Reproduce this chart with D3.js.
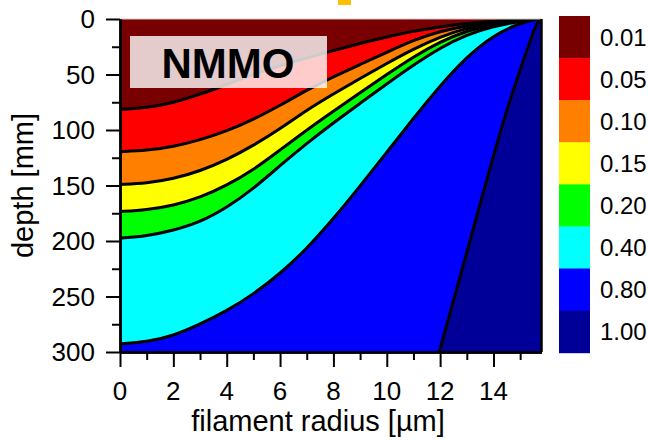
<!DOCTYPE html>
<html lang="en">
<head>
<meta charset="utf-8">
<title>NMMO contour</title>
<script src="https://cdn.jsdelivr.net/npm/d3@7"></script>
<style>
  body { margin: 0; background: #fff; }
  text { font-family: Arial, "Liberation Sans", sans-serif; fill: #000; }
</style>
</head>
<body>
<svg width="648" height="440"></svg>
<script>
// radius grid [µm] for the contour lines
const radius = [0, 1, 2, 3, 4, 5, 6, 7, 8, 9, 10, 11, 12, 13, 14, 15, 15.7];
// depth [mm] of each contour line at those radii
const depth001 = [81.5, 80, 75.5, 68, 59, 50, 42, 35, 28.5, 22, 16, 11, 7, 4, 1.8, 0.5, 0];
const depth005 = [119.5, 118.5, 115, 109, 101, 90.5, 78, 64, 52, 41, 30, 19, 11, 6, 2.8, 0.8, 0];
const depth010 = [149, 148, 144, 137, 127, 114, 99, 82, 67.5, 53.5, 40, 27, 16, 8, 3.8, 1.1, 0];
const depth015 = [173.5, 172, 168, 161, 150, 136, 118, 100, 83, 66.5, 50, 34, 20.5, 10.5, 5, 1.5, 0];
const depth020 = [197.5, 195.5, 190.5, 183, 170, 153, 132, 112, 93.5, 76, 58.5, 41.5, 26, 14, 6.5, 2, 0];
const depth040 = [292.5, 291, 285.5, 275, 263, 248, 229.5, 207, 180, 150.5, 120, 89.5, 60, 34, 14.5, 3.5, 0];
// the 0.80 line runs steeply from the bottom to the top right corner
const edgeRadius = [11.97, 12.54, 13.12, 13.69, 14.06, 14.28, 14.53, 14.8, 15.08, 15.37, 15.6, 15.72];
const edgeDepth = [300, 250, 200, 150, 118, 100, 80, 60, 40, 20, 5, 0];

const levels = ["0.01", "0.05", "0.10", "0.15", "0.20", "0.40", "0.80", "1.00"];
const colors = ["#780000", "#ff0000", "#ff8000", "#ffff00", "#00ff00", "#00ffff", "#0000ff", "#000099"];
const xTicks = [0, 2, 4, 6, 8, 10, 12, 14];
const xMinor = [1, 3, 5, 7, 9, 11, 13, 15];
const yTicks = [0, 50, 100, 150, 200, 250, 300];
const yMinor = [25, 75, 125, 175, 225, 275];

const xMax = 15.8, yMax = 300;
const svg = d3.select("svg");
const x = d3.scaleLinear().domain([0, xMax]).range([120, 541.5]);
const y = d3.scaleLinear().domain([0, yMax]).range([19, 352]);

svg.append("clipPath").attr("id", "plot")
  .append("rect")
  .attr("x", x(0)).attr("y", y(0))
  .attr("width", x(xMax) - x(0)).attr("height", y(yMax) - y(0));

const g = svg.append("g").attr("clip-path", "url(#plot)");

const line = d3.line()
  .x(d => x(d[0]))
  .y(d => y(d[1]))
  .curve(d3.curveBasis);

// everything below-right of a line, closed along the plot frame
function regionBelow(pts) {
  return line(pts) +
    `L${x(xMax)},${y(0)}L${x(xMax)},${y(yMax)}L${x(0)},${y(yMax)}Z`;
}

const contourLines = [depth001, depth005, depth010, depth015, depth020, depth040]
  .map(ds => radius.map((r, i) => [r, ds[i]]));
contourLines.push(edgeRadius.map((r, i) => [r, edgeDepth[i]]));

g.append("rect")
  .attr("x", x(0)).attr("y", y(0))
  .attr("width", x(xMax) - x(0)).attr("height", y(yMax) - y(0))
  .attr("fill", colors[0]);

g.selectAll("path.band")
  .data(contourLines)
  .join("path")
  .attr("class", "band")
  .attr("d", regionBelow)
  .attr("fill", (d, i) => colors[i + 1]);

g.selectAll("path.iso")
  .data(contourLines)
  .join("path")
  .attr("class", "iso")
  .attr("d", line)
  .attr("fill", "none")
  .attr("stroke", "#000")
  .attr("stroke-width", 3);

// label box
svg.append("rect")
  .attr("x", 130).attr("y", 36)
  .attr("width", 197).attr("height", 52)
  .attr("fill", "#fff").attr("fill-opacity", 0.8);
svg.append("text")
  .attr("x", 228).attr("y", 78)
  .attr("text-anchor", "middle")
  .attr("font-size", 42).attr("font-weight", "bold")
  .text("NMMO");

// frame
svg.append("line")
  .attr("x1", x(0)).attr("x2", x(xMax)).attr("y1", y(0)).attr("y2", y(0))
  .attr("stroke", "#d9c4c4").attr("stroke-width", 1);
svg.append("line")
  .attr("x1", x(xMax)).attr("x2", x(xMax)).attr("y1", y(0)).attr("y2", y(yMax))
  .attr("stroke", "#000").attr("stroke-width", 2.5);

function styleAxis(sel) {
  sel.select(".domain").attr("stroke-width", 2.5);
  sel.selectAll(".tick line").attr("stroke-width", 2);
  sel.selectAll("text").remove();
}

svg.append("g").attr("transform", `translate(0,${y(yMax)})`)
  .call(d3.axisBottom(x).tickValues(xMinor).tickSize(8).tickSizeOuter(0))
  .call(styleAxis);
svg.append("g").attr("transform", `translate(0,${y(yMax)})`)
  .call(d3.axisBottom(x).tickValues(xTicks).tickSize(15).tickSizeOuter(0))
  .call(styleAxis);
svg.append("g").attr("transform", `translate(${x(0)},0)`)
  .call(d3.axisLeft(y).tickValues(yMinor).tickSize(8).tickSizeOuter(0))
  .call(styleAxis);
svg.append("g").attr("transform", `translate(${x(0)},0)`)
  .call(d3.axisLeft(y).tickValues(yTicks).tickSize(14).tickSizeOuter(0))
  .call(styleAxis);

svg.selectAll("text.xt")
  .data(xTicks)
  .join("text")
  .attr("class", "xt")
  .attr("x", d => x(d)).attr("y", 400)
  .attr("text-anchor", "middle")
  .attr("font-size", 26)
  .text(d => d);

svg.selectAll("text.yt")
  .data(yTicks)
  .join("text")
  .attr("class", "yt")
  .attr("x", 95).attr("y", d => y(d))
  .attr("dy", "0.36em")
  .attr("text-anchor", "end")
  .attr("font-size", 26)
  .text(d => d);

svg.append("text")
  .attr("x", 318).attr("y", 431)
  .attr("text-anchor", "middle")
  .attr("font-size", 29)
  .text("filament radius [µm]");

svg.append("text")
  .attr("transform", `translate(33,${(y(0) + y(yMax)) / 2}) rotate(-90)`)
  .attr("text-anchor", "middle")
  .attr("font-size", 29)
  .text("depth [mm]");

// colour legend
const legendY = d3.scaleBand().domain(levels).range([16, 352.7]);
svg.selectAll("rect.key")
  .data(levels)
  .join("rect")
  .attr("class", "key")
  .attr("x", 559).attr("y", d => legendY(d))
  .attr("width", 31).attr("height", legendY.bandwidth() + 0.5)
  .attr("fill", (d, i) => colors[i]);
svg.selectAll("text.key")
  .data(levels)
  .join("text")
  .attr("class", "key")
  .attr("x", 600).attr("y", d => legendY(d) + legendY.bandwidth() / 2)
  .attr("dy", "0.36em")
  .attr("font-size", 24)
  .text(d => d);

// small orange mark cut off at the top edge
svg.append("rect")
  .attr("x", 338).attr("y", 0).attr("width", 13).attr("height", 5)
  .attr("fill", "#ffc000");
</script>
</body>
</html>
